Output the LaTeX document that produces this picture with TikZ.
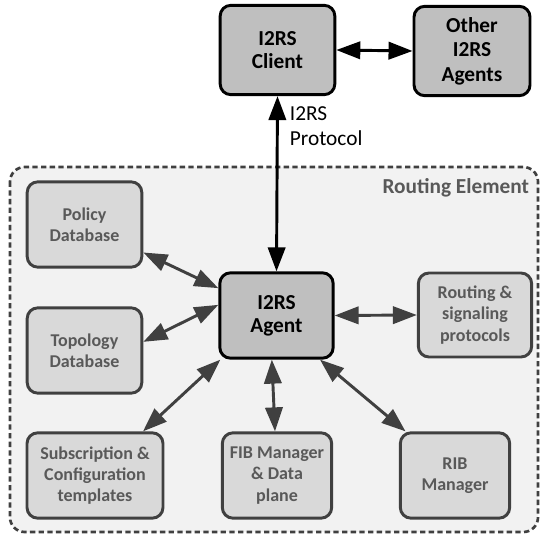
\documentclass[tikz,border=0pt]{standalone}
\usepackage{fontspec}
\setmainfont{Carlito}
\usetikzlibrary{arrows.meta}

\definecolor{boxdark}{HTML}{BFBFBF}
\definecolor{boxlight}{HTML}{D9D9D9}
\definecolor{linegray}{HTML}{404040}
\definecolor{textgray}{HTML}{595959}
\definecolor{areagray}{HTML}{F2F2F2}

\begin{document}
\begin{tikzpicture}[
            x = 0.75pt, y = -0.75pt, % pixel units
            > = {Triangle[length=18pt,width=13pt]}, % arrow head style
            line width = 2.2pt, % line style
            font = \fontsize{13.5}{16}\selectfont\bfseries
        ]

        \tikzstyle{main}=[
            draw = black,
            fill = boxdark,
            rounded corners = 8pt,
            align = center,
            inner sep = 0pt,
            font = \fontsize{16}{17.5}\selectfont\bfseries
        ]
        \tikzstyle{part}=[
            draw = linegray,
            fill = boxlight,
            text = textgray,
            rounded corners = 8pt,
            align = center,
            inner sep = 0pt
        ]
        \tikzstyle{link}=[<->, draw = linegray]

        \useasboundingbox (0,0) rectangle (541,534);

        % routing element
        \draw[fill = areagray, draw = linegray, dash pattern = on 4pt off 2.5pt,
            line width = 2pt, rounded corners = 11pt] (10,167) rectangle (538,532);
        \node[anchor = east, text = textgray, font = \fontsize{16}{19}\selectfont\bfseries]
            (re) at (535,188) {Routing Element};

        \node[main, minimum width = 86pt, minimum height = 67pt] (client) at (277.5,50) {I2RS\\Client};
        \node[main, minimum width = 87pt, minimum height = 67pt, font = \fontsize{16}{18.5}\selectfont\bfseries]
            (other) at (472,51) {Other\\I2RS\\Agents};
        \node[main, minimum width = 85pt, minimum height = 64pt] (agent) at (276.5,315.5) {I2RS\\Agent};

        \node[part, minimum width = 86pt, minimum height = 64pt] (policy) at (84.5,224.5) {Policy\\Database};
        \node[part, minimum width = 86pt, minimum height = 64pt] (topo) at (84.5,350.5) {Topology\\Database};
        \node[part, minimum width = 85pt, minimum height = 63pt] (routing) at (475,315) {Routing \&\\signaling\\protocols};
        \node[part, minimum width = 102pt, minimum height = 64pt] (subs) at (95,475.5) {Subscription \&\\Configuration\\templates};
        \node[part, minimum width = 82pt, minimum height = 64pt] (fib) at (277,475.5) {FIB Manager\\\& Data\\plane};
        \node[part, minimum width = 82pt, minimum height = 64pt] (rib) at (455,475.5) {RIB\\Manager};

        \node[anchor = west, align = left, font = \fontsize{16}{18.5}\selectfont]
            (proto) at (284,126) {I2RS\\Protocol};

        \draw[<->] (client.east) -- (other.west);
        \draw[<->] (client.south) -- (agent.north);

        \draw[link] ([yshift=-21pt]policy.east) -- ([yshift=20.5pt]agent.west);
        \draw[link] ([yshift=6.5pt]topo.east) -- ([yshift=8pt]agent.west);
        \draw[link] (agent.east) -- (routing.west);
        \draw[link] ([xshift=36pt]subs.north) -- ([xshift=1.5pt]agent.south west);
        \draw[link] ([xshift=-3.5pt]agent.south) -- ([xshift=-1.5pt]fib.north);
        \draw[link] ([xshift=-11pt]agent.south east) -- ([xshift=5pt]rib.north west);

  \end{tikzpicture}
\end{document}
